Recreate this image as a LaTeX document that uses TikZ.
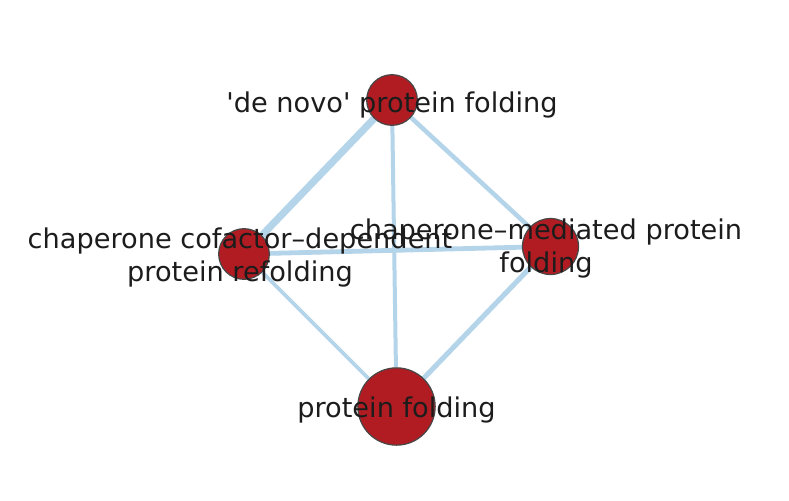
\documentclass[tikz,border=0pt]{standalone}
\usepackage{fontspec}
\setmainfont{DejaVu Sans}
\usetikzlibrary{backgrounds}
\definecolor{termred}{HTML}{B11C22}
\definecolor{termrim}{HTML}{474747}
\definecolor{linkblue}{HTML}{B4D4EA}
\definecolor{labelgray}{HTML}{1C1C1C}
\begin{document}
\begin{tikzpicture}[
    x=0.75pt, y=-0.75pt,
    term/.style={circle, draw=termrim, fill=termred, line width=0.9pt,
                 inner sep=0pt},
    lbl/.style={inner sep=0pt, align=center, text=labelgray,
                font=\fontsize{20.4}{24.5}\selectfont},
    link/.style={draw=linkblue, line width=3pt}
  ]
    \useasboundingbox (0,0) rectangle (789,500);

    \node[term, minimum size=38pt] (denovo)   at (392,100)     {};
    \node[term, minimum size=38pt] (cofactor) at (244,254)     {};
    \node[term, minimum size=42pt] (mediated) at (550.5,246.5) {};
    \node[term, minimum size=58pt] (folding)  at (396.5,406.5) {};

    \begin{scope}[on background layer]
      \draw[link, line width=5.4pt] (denovo)   -- (cofactor);
      \draw[link]                   (denovo)   -- (folding);
      \draw[link, line width=3.4pt] (denovo)   -- (mediated);
      \draw[link, line width=3.6pt] (cofactor) -- (mediated);
      \draw[link, line width=2.7pt] (cofactor) -- (folding);
      \draw[link, line width=3.8pt] (mediated) -- (folding);
    \end{scope}

    \node[lbl] (denovo-lbl)   at (392,104.8)   {\textquotesingle de novo\textquotesingle{} protein folding};
    \node[lbl] (cofactor-lbl) at (240,257.8)   {chaperone cofactor–dependent\\protein refolding};
    \node[lbl] (mediated-lbl) at (546,248.8)   {chaperone–mediated protein\\folding};
    \node[lbl] (folding-lbl)  at (396.5,409.8) {protein folding};
  \end{tikzpicture}
\end{document}
